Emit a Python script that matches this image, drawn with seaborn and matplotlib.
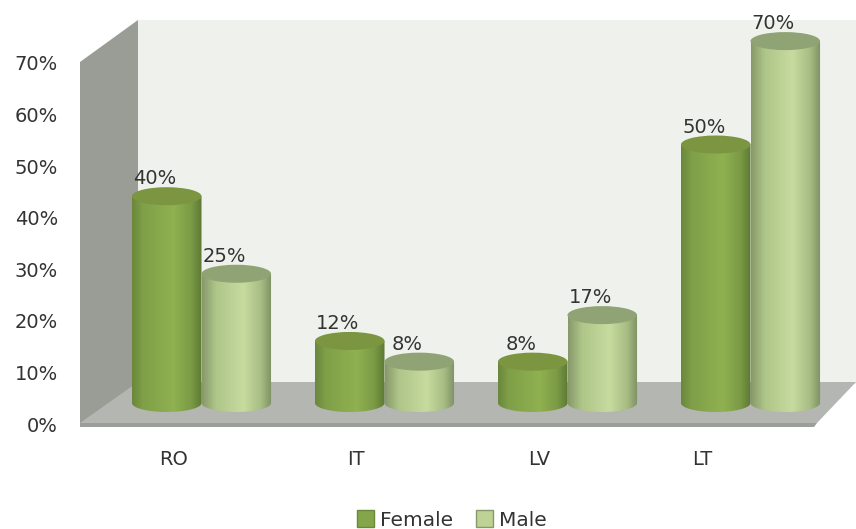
import numpy as np
import pandas as pd
import seaborn as sns
import matplotlib.pyplot as plt
from matplotlib.colors import LinearSegmentedColormap
from matplotlib.patches import Ellipse, Polygon

countries = ['RO', 'IT', 'LV', 'LT']
female = [40, 12, 8, 50]
male = [25, 8, 17, 70]
tick_values = [0, 10, 20, 30, 40, 50, 60, 70]

W, H = 856, 529
TEXT = '#333333'

sns.set_style('white')
plt.rcParams['font.family'] = ['DejaVu Sans']
plt.rcParams['font.size'] = 14

df = pd.DataFrame({
    'country': countries * 2,
    'sex': ['Female'] * 4 + ['Male'] * 4,
    'value': female + male,
})

fig = plt.figure(figsize=(W / 100, H / 100), dpi=100, facecolor='white')

# 3d box behind the bars, drawn in pixel coordinates
bg = fig.add_axes([0, 0, 1, 1], zorder=0)
bg.set_xlim(0, W)
bg.set_ylim(H, 0)
bg.axis('off')
bg.add_patch(Polygon([(138, 20), (W, 20), (W, 384), (138, 384)], color='#eff2ec', lw=0))
bg.add_patch(Polygon([(80, 62), (138, 20), (138, 384), (80, 426)], color='#9a9c96', lw=0))
bg.add_patch(Polygon([(80, 423), (138, 382), (W, 382), (817, 423)], color='#b4b6b1', lw=0))
bg.add_patch(Polygon([(80, 423), (817, 423), (814, 427), (80, 427)], color='#9c9e9a', lw=0))

# bars, value 0 sits at pixel 403 and one percent is 5.17 px
scale = 5.17
ax = fig.add_axes([0, 89 / H, 1, 440 / H], zorder=2)
ax.patch.set_visible(False)
sns.barplot(data=df, x='country', y='value', hue='sex', order=countries,
            palette=['#84a64a', '#bdd294'], width=0.76, gap=0, ax=ax, legend=False)
xlim = (-201.5 / 183, (W - 201.5) / 183)
ylim = (-37 / scale, 403 / scale)

grads = [
    LinearSegmentedColormap.from_list('f', [(0, '#6a873c'), (0.15, '#7f9f48'), (0.6, '#90b150'),
                                            (0.85, '#7b9a45'), (1, '#5d7a35')]),
    LinearSegmentedColormap.from_list('m', [(0, '#87996a'), (0.2, '#afc689'), (0.6, '#c7db9f'),
                                            (0.85, '#a7bc83'), (1, '#7d9064')]),
]
top_colors = ['#7b9541', '#8fa375']
ramp = np.linspace(0, 1, 128)[None, :]
ell_h = 18 / scale

for i, container in enumerate(ax.containers):
    for bar in container:
        x0, bw, v = bar.get_x(), bar.get_width(), bar.get_height()
        cx = x0 + bw / 2
        # the flat bar only gives the geometry, the cylinder is painted on top
        bar.set_facecolor('none')
        bar.set_edgecolor('none')
        t = np.linspace(np.pi, 2 * np.pi, 40)
        arc = np.c_[cx + bw / 2 * np.cos(t), ell_h / 2 * np.sin(t)]
        outline = np.vstack([[x0, v], arc, [x0 + bw, v]])
        clip = Polygon(outline, transform=ax.transData)
        im = ax.imshow(ramp, cmap=grads[i], aspect='auto', zorder=3 + i,
                       extent=(x0, x0 + bw, -ell_h, v))
        im.set_clip_path(clip)
        ax.add_patch(Ellipse((cx, v), bw, ell_h, facecolor=top_colors[i], edgecolor='none', zorder=3 + i))
        ax.annotate(f'{v:.0f}%', (cx, v), xytext=(-8.5, 12.5), textcoords='offset points',
                    ha='center', va='center', color=TEXT, fontsize=14, zorder=6)

ax.set_xlim(xlim)
ax.set_ylim(ylim)
ax.set_xticks([(p - 201.5) / 183 for p in [174, 356, 539, 702]], countries)
ax.set_yticks([])
ax.set_xlabel('')
ax.set_ylabel('')
ax.tick_params(axis='x', length=0, pad=7, labelcolor=TEXT, labelsize=14)
sns.despine(ax=ax, left=True, bottom=True)

# value axis has its own scale because of the 3d offset
tick_ax = fig.add_axes([62 / W, 0, 0.0001, 1], zorder=1)
tick_ax.patch.set_visible(False)
per = (424 - 63) / 70
tick_ax.set_ylim(-(H - 424) / per, 424 / per)
tick_ax.set_yticks(tick_values, [f'{v}%' for v in tick_values])
tick_ax.set_xticks([])
tick_ax.tick_params(axis='y', length=0, pad=3, labelcolor=TEXT, labelsize=14)
sns.despine(ax=tick_ax, left=True, bottom=True)

handles = [plt.Rectangle((0, 0), 1, 1, facecolor='#84a64a', edgecolor='#6a873c'),
           plt.Rectangle((0, 0), 1, 1, facecolor='#bdd294', edgecolor='#87996a')]
fig.legend(handles, ['Female', 'Male'], loc='center', bbox_to_anchor=(452 / W, 1 - 520 / H),
           ncol=2, frameon=False, fontsize=14.5, labelcolor=TEXT, handlelength=0.85, handleheight=0.85,
           handletextpad=0.3, columnspacing=1.1, borderpad=0)

fig.savefig('out.png', dpi=100)
